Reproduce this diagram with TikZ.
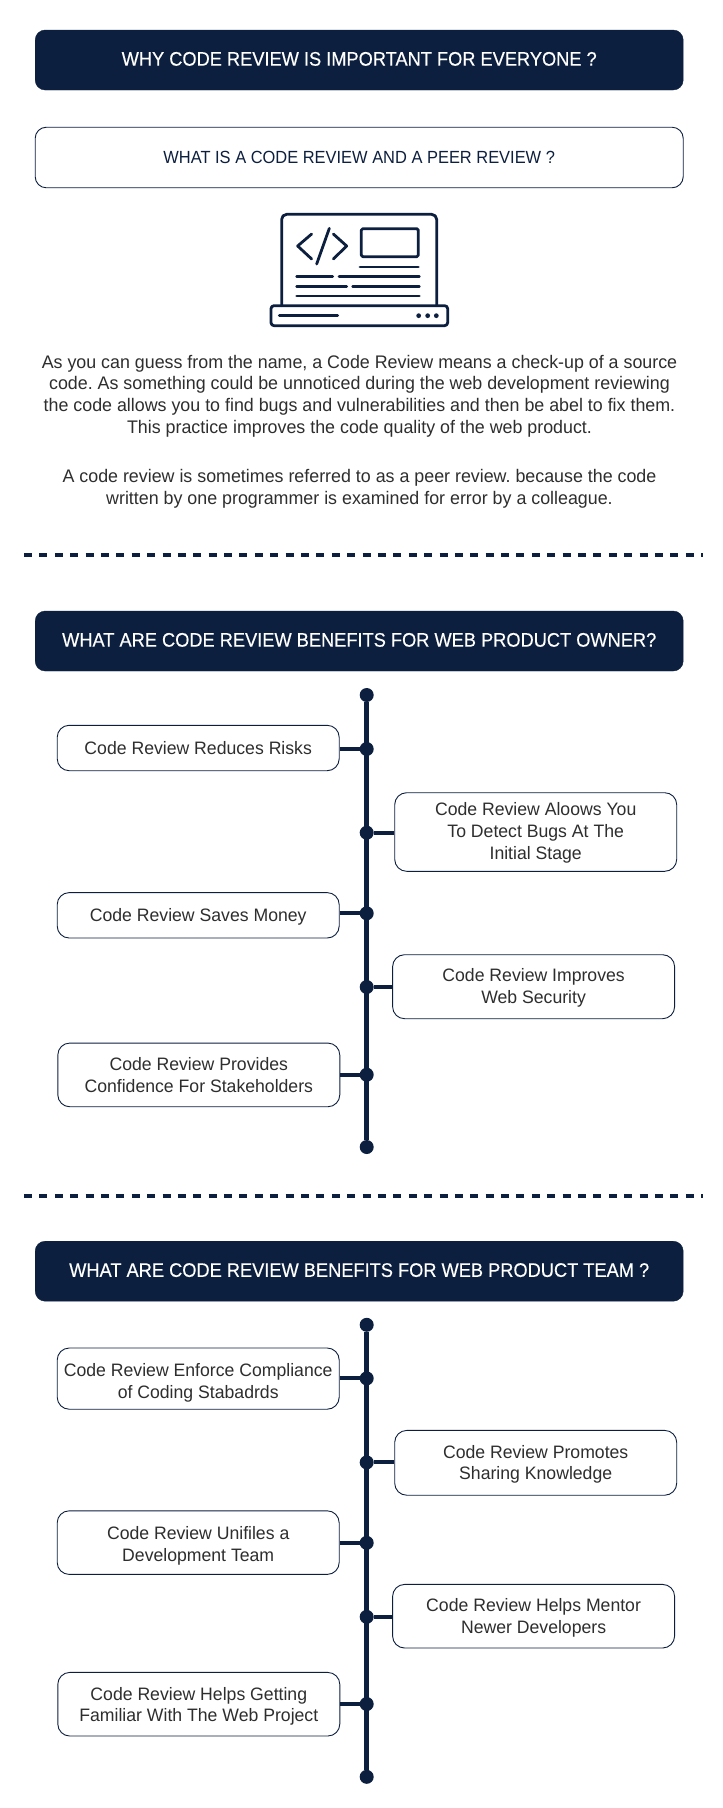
\documentclass[tikz,border=0pt]{standalone}
\usepackage{fontspec}
\setmainfont{Liberation Sans}
\newfontfamily\medfont[FakeBold=0.35,FakeStretch=0.93]{Liberation Sans}
\newfontfamily\capfont[FakeStretch=0.934]{Liberation Sans}
\newfontfamily\bodyfont[FakeStretch=0.98]{Liberation Sans}
\definecolor{navy}{HTML}{0C1F3F}
\definecolor{ink}{HTML}{2E2E2E}
% lowers a box's text by the given amount, keeping the line pitch
\newcommand\dn[1]{\rule{0pt}{\dimexpr13pt+2\dimexpr#1\relax\relax}}
% raises a single-line text by half the given depth
\newcommand\upby[1]{\rule[-#1]{0pt}{#1}}
\tikzset{
  header/.style={fill=navy,draw=navy,rounded corners=10pt,minimum width=648pt,minimum height=60pt,inner sep=0pt,text=white,font=\medfont\fontsize{19.6}{24}\selectfont},
  subheader/.style={fill=white,draw=navy,line width=0.9pt,rounded corners=11pt,minimum width=648pt,minimum height=60.5pt,inner sep=0pt,text=navy,font=\capfont\fontsize{17.6}{22}\selectfont},
  para/.style={align=center,inner sep=0pt,text=ink,font=\bodyfont\frenchspacing\fontsize{18.2}{21.7}\selectfont},
  itembox/.style={fill=white,draw=navy,line width=0.9pt,rounded corners=12pt,inner sep=0pt,align=center,text=ink,font=\bodyfont\frenchspacing\fontsize{18}{21.7}\selectfont,minimum width=282pt},
  dot/.style={circle,fill=navy,inner sep=0pt,minimum size=14pt},
  spine/.style={draw=navy,line width=4.6pt},
  tie/.style={draw=navy,line width=4pt},
  divider/.style={draw=navy,line width=4.3pt,dash pattern=on 8pt off 7.39pt},
  icon/.style={draw=navy,line width=2.8pt,line cap=round,line join=round}
}
\begin{document}
\begin{tikzpicture}[x=1pt,y=-1pt]
\useasboundingbox (0,0) rectangle (723,1808);
\fill[white] (0,0) rectangle (723,1808);

\node[header] (h1) at (359.2,60) {\upby{2.4pt}WHY CODE REVIEW IS IMPORTANT FOR EVERYONE ?};
\node[subheader] (h2) at (359.2,157.5) {WHAT IS A CODE REVIEW AND A PEER REVIEW ?};

% laptop icon
\begin{scope}[shift={(260,200)},x=0.33333pt,y=-0.33333pt]
  \draw[icon,rounded corners=5pt] (65,317) -- (65,43) -- (530,43) -- (530,317);
  \draw[icon,rounded corners=3pt] (33,317) rectangle (563,377);
  \draw[icon] (155,102) -- (113,138) -- (155,177);
  \draw[icon] (220,102) -- (260,138) -- (220,177);
  \draw[icon] (208,85) -- (170,192);
  \draw[icon,rounded corners=1.5pt] (304,86) rectangle (475,170);
  \draw[icon] (300,201) -- (475,201);
  \draw[icon] (110,230) -- (218,230);
  \draw[icon] (237,230) -- (478,230);
  \draw[icon] (110,259) -- (260,259);
  \draw[icon] (278,259) -- (478,259);
  \draw[icon] (110,288) -- (478,288);
  \draw[icon] (58,347) -- (233,347);
  \fill[navy] (476,347) circle (2.4pt) (503,347) circle (2.4pt) (529,347) circle (2.4pt);
\end{scope}

\node[para] (p1) at (359.5,396) {As you can guess from the name, a Code Review means a check-up of a source\\code. As something could be unnoticed during the web development reviewing\\the code allows you to find bugs and vulnerabilities and then be abel to fix them.\\This practice improves the code quality of the web product.};
\node[para] (p2) at (359.5,489) {A code review is sometimes referred to as a peer review. because the code\\written by one programmer is examined for error by a colleague.};

\coordinate (d1a) at (24,555);
\coordinate (d1b) at (703,555);
\draw[divider] (d1a) -- (d1b);

\node[header] (h3) at (359.2,641) {\upby{2.4pt}WHAT ARE CODE REVIEW BENEFITS FOR WEB PRODUCT OWNER?};

% timeline 1
\node[dot] (a0) at (366.7,695) {};
\node[dot] (a6) at (366.7,1147) {};
\draw[spine] (a0) -- (a6);
\node[dot] (a1) at (366.7,749) {};
\node[dot] (a2) at (366.7,832.7) {};
\node[dot] (a3) at (366.7,913.3) {};
\node[dot] (a4) at (366.7,987) {};
\node[dot] (a5) at (366.7,1074.7) {};
\node[itembox,minimum height=45.4pt] (b1) at (198.2,748) {Code Review Reduces Risks};
\node[itembox,minimum height=78.6pt] (b2) at (535.7,832) {\dn{1pt}Code Review Aloows You\\To Detect Bugs At The\\Initial Stage};
\node[itembox,minimum height=45.4pt] (b3) at (198.2,915.3) {\dn{2pt}Code Review Saves Money};
\node[itembox,minimum height=64pt] (b4) at (533.6,986.7) {\dn{1pt}Code Review Improves\\Web Security};
\node[itembox,minimum height=63.7pt] (b5) at (198.8,1074.9) {Code Review Provides\\Confidence For Stakeholders};
\draw[tie] (b1.east |- a1) -- (a1);
\draw[tie] (b2.west |- a2) -- (a2);
\draw[tie] (b3.east |- a3) -- (a3);
\draw[tie] (b4.west |- a4) -- (a4);
\draw[tie] (b5.east |- a5) -- (a5);

\coordinate (d2a) at (24,1196);
\coordinate (d2b) at (703,1196);
\draw[divider] (d2a) -- (d2b);

\node[header] (h4) at (359.2,1271.2) {\upby{2.4pt}WHAT ARE CODE REVIEW BENEFITS FOR WEB PRODUCT TEAM ?};

% timeline 2
\node[dot] (c0) at (366.7,1324.8) {};
\node[dot] (c6) at (366.7,1776.8) {};
\draw[spine] (c0) -- (c6);
\node[dot] (c1) at (366.7,1378.4) {};
\node[dot] (c2) at (366.7,1462.4) {};
\node[dot] (c3) at (366.7,1542.8) {};
\node[dot] (c4) at (366.7,1616.8) {};
\node[dot] (c5) at (366.7,1704) {};
\node[itembox,minimum height=61.2pt] (e1) at (198.2,1378.6) {\dn{4.5pt}Code Review Enforce Compliance\\of Coding Stabadrds};
\node[itembox,minimum height=64.8pt] (e2) at (535.7,1462.8) {\dn{1.5pt}Code Review Promotes\\Sharing Knowledge};
\node[itembox,minimum height=63.6pt] (e3) at (198.2,1542.6) {\dn{3.5pt}Code Review Unifiles a\\Development Team};
\node[itembox,minimum height=63.6pt] (e4) at (533.6,1616.2) {\dn{1.5pt}Code Review Helps Mentor\\Newer Developers};
\node[itembox,minimum height=63.6pt] (e5) at (198.8,1704.2) {\dn{2pt}Code Review Helps Getting\\Familiar With The Web Project};
\draw[tie] (e1.east |- c1) -- (c1);
\draw[tie] (e2.west |- c2) -- (c2);
\draw[tie] (e3.east |- c3) -- (c3);
\draw[tie] (e4.west |- c4) -- (c4);
\draw[tie] (e5.east |- c5) -- (c5);
\end{tikzpicture}
\end{document}
